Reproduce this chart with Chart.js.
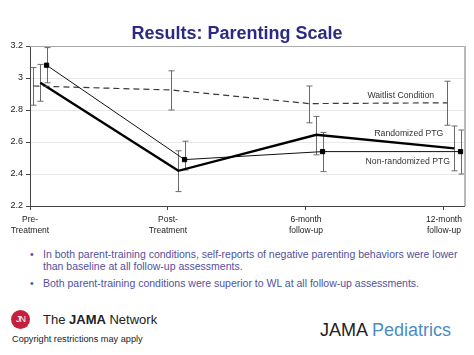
<!DOCTYPE html>
<html><head><meta charset="utf-8">
<script src="https://cdn.jsdelivr.net/npm/chart.js@4"></script>
<style>
html,body{margin:0;padding:0;background:#fff;}
body{width:474px;height:355px;position:relative;overflow:hidden;font-family:"Liberation Sans",Arial,sans-serif;}
#wrap{position:absolute;left:0;top:0;width:474px;height:245px;}
#title{position:absolute;left:0;width:474px;top:23px;text-align:center;font-weight:bold;font-size:18px;color:#2b2a85;}
.bul{position:absolute;left:30px;font-size:10.5px;color:#5350a0;line-height:12px;}
.bul span{position:absolute;left:0;}
.bul div{margin-left:13px;}
</style></head>
<body>
<div id="wrap"><canvas id="c" width="474" height="245"></canvas></div>
<div id="title">Results: Parenting Scale</div>
<div class="bul" style="top:248px;"><span>•</span><div>In both parent-training conditions, self-reports of negative parenting behaviors were lower<br>than baseline at all follow-up assessments.</div></div>
<div class="bul" style="top:277px;"><span>•</span><div>Both parent-training conditions were superior to WL at all follow-up assessments.</div></div>
<div style="position:absolute;left:11px;top:310px;width:19px;height:19px;border-radius:50%;background:#c5203b;color:#fff;font-size:9px;line-height:19px;text-align:center;letter-spacing:-1px;">JN</div>
<div style="position:absolute;left:43px;top:312px;font-size:13px;color:#222;">The <b>JAMA</b> Network</div>
<div style="position:absolute;left:12px;top:334px;font-size:9.2px;color:#222;">Copyright restrictions may apply</div>
<div style="position:absolute;left:320px;top:320px;font-size:18px;color:#222;">JAMA <span style="color:#4b8dc6;">Pediatrics</span></div>
<script>
const categories = [["Pre-","Treatment"],["Post-","Treatment"],["6-month","follow-up"],["12-month","follow-up"]];
const yTickValues = [2.2,2.4,2.6,2.8,3.0,3.2];
const yTickLabels = ["2.2","2.4","2.6","2.8","3","3.2"];
const offsets = {waitlist:0.025, randomized:0.075, nonrandomized:0.12};

const waitlist = [2.95, 2.925, 2.84, 2.845];
const waitlistLo = [2.83, 2.80, 2.72, 2.705];
const waitlistHi = [3.065, 3.045, 2.95, 2.98];

const randomized = [2.97, 2.42, 2.645, 2.56];
const randomizedLo = [2.855, 2.29, 2.52, 2.42];
const randomizedHi = [3.085, 2.545, 2.76, 2.70];

const nonrandomized = [3.08, 2.49, 2.54, 2.54];
const nonrandomizedLo = [2.97, 2.425, 2.415, 2.40];
const nonrandomizedHi = [3.19, 2.605, 2.66, 2.675];

const labels = [
  {text:"Waitlist Condition", x:2.687, y:2.8875},
  {text:"Randomized PTG", x:2.745, y:2.65},
  {text:"Non-randomized PTG", x:2.738, y:2.475}
];

function pts(vals, off, lo, hi){
  return vals.map((v,i)=>({x:i+off, y:v, lo:lo[i], hi:hi[i]}));
}

const errorBars = {
  id:'errorBars',
  beforeDatasetsDraw(chart){
    const {ctx, scales:{x,y}} = chart;
    ctx.save();
    ctx.strokeStyle = '#6a6a6a';
    ctx.lineWidth = 1;
    chart.data.datasets.forEach(ds=>{
      ds.data.forEach(p=>{
        const px = Math.round(x.getPixelForValue(p.x))+0.5;
        const yl = y.getPixelForValue(p.lo), yh = y.getPixelForValue(p.hi);
        ctx.beginPath();
        ctx.moveTo(px,yl); ctx.lineTo(px,yh);
        ctx.moveTo(px-3,yl); ctx.lineTo(px+3,yl);
        ctx.moveTo(px-3,yh); ctx.lineTo(px+3,yh);
        ctx.stroke();
      });
    });
    ctx.restore();
  },
  afterDraw(chart){
    const {ctx, chartArea:a, scales:{x,y}} = chart;
    ctx.save();
    ctx.strokeStyle = '#a8a8a8';
    ctx.lineWidth = 1;
    ctx.beginPath();
    ctx.moveTo(a.left, a.top+0.5); ctx.lineTo(a.right, a.top+0.5);
    ctx.stroke();
    ctx.lineWidth = 2;
    ctx.strokeStyle = '#b8b8b8';
    ctx.beginPath();
    ctx.moveTo(a.right+1, a.top); ctx.lineTo(a.right+1, a.bottom);
    ctx.stroke();
    ctx.fillStyle = '#333';
    ctx.font = '8.7px "Liberation Sans", Arial, sans-serif';
    ctx.textAlign = 'center';
    ctx.textBaseline = 'middle';
    labels.forEach(l=>{
      ctx.fillText(l.text, x.getPixelForValue(l.x), y.getPixelForValue(l.y));
    });
    ctx.restore();
  }
};

new Chart(document.getElementById('c'), {
  type:'scatter',
  data:{datasets:[
    {label:'Waitlist Condition', data:pts(waitlist, offsets.waitlist, waitlistLo, waitlistHi), showLine:true,
     borderColor:'#3a3a3a', borderWidth:1.2, borderDash:[6,4], pointRadius:0, fill:false},
    {label:'Randomized PTG', data:pts(randomized, offsets.randomized, randomizedLo, randomizedHi), showLine:true,
     borderColor:'#000', borderWidth:2.4, pointRadius:0, fill:false},
    {label:'Non-randomized PTG', data:pts(nonrandomized, offsets.nonrandomized, nonrandomizedLo, nonrandomizedHi), showLine:true,
     borderColor:'#111', borderWidth:1, pointStyle:'rect', pointRadius:3, pointBackgroundColor:'#000', pointBorderColor:'#000', fill:false}
  ]},
  options:{
    responsive:false, animation:false, devicePixelRatio:1,
    layout:{padding:{top:46, right:10, left:0, bottom:0}},
    plugins:{legend:{display:false}, tooltip:{enabled:false}, title:{display:false}},
    scales:{
      x:{type:'linear', min:0, max:3.145,
        afterBuildTicks(s){ s.ticks = categories.map((c,i)=>({value:i})); },
        afterFit(s){ s.height = 39; },
        ticks:{color:'#222', font:{family:'"Liberation Sans", Arial, sans-serif', size:8.5, lineHeight:1.3}, padding:4,
          maxRotation:0, autoSkip:false, callback:(v)=>categories[v]},
        grid:{drawOnChartArea:false, tickLength:4, tickColor:'#444'},
        border:{color:'#444', width:1}
      },
      y:{min:2.2, max:3.2,
        afterBuildTicks(s){ s.ticks = yTickValues.map(v=>({value:v})); },
        afterFit(s){ s.width = 30; },
        ticks:{color:'#222', font:{family:'"Liberation Sans", Arial, sans-serif', size:9}, padding:3,
          callback:(v)=>{ const i = yTickValues.findIndex(t=>Math.abs(t-v)<1e-6); return i>=0?yTickLabels[i]:''; }},
        grid:{color:'#e8e8e8', tickLength:4, tickColor:'#444'},
        border:{color:'#444', width:1}
      }
    }
  },
  plugins:[errorBars]
});
</script>
</body></html>
